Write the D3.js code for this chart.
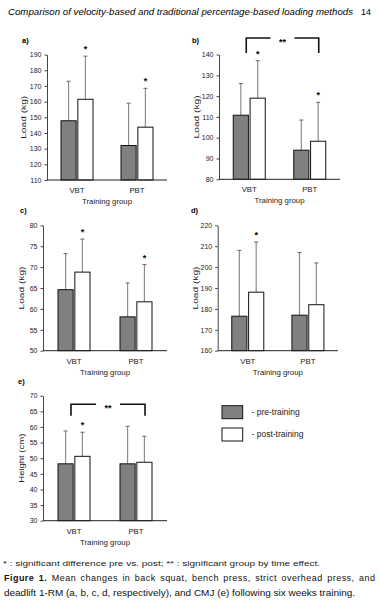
<!DOCTYPE html>
<html>
<head>
<meta charset="utf-8">
<script src="https://cdn.jsdelivr.net/npm/d3@7/dist/d3.min.js"></script>
<style>
  html, body { margin: 0; padding: 0; background: #fff; }
  svg { display: block; font-family: "Liberation Sans", Arial, sans-serif; }
</style>
</head>
<body>
<div id="chart"></div>
<script>
// groups and bar series
const groups = ['VBT', 'PBT'];
const phases = ['pre', 'post'];

// a) back squat
const squatPre = [147.8, 132.0];
const squatPreSD = [25.2, 27.0];
const squatPost = [161.5, 143.7];
const squatPostSD = [27.5, 24.8];
// b) bench press
const benchPre = [110.8, 94.0];
const benchPreSD = [15.2, 14.5];
const benchPost = [119.0, 98.3];
const benchPostSD = [18.0, 18.7];
// c) strict overhead press
const pressPre = [64.6, 58.1];
const pressPreSD = [8.6, 8.1];
const pressPost = [68.8, 61.7];
const pressPostSD = [7.9, 8.9];
// d) deadlift
const deadPre = [176.5, 177.0];
const deadPreSD = [31.5, 30.0];
const deadPost = [188.0, 182.0];
const deadPostSD = [24.0, 20.0];
// e) CMJ
const cmjPre = [48.2, 48.2];
const cmjPreSD = [10.5, 12.0];
const cmjPost = [50.6, 48.7];
const cmjPostSD = [7.7, 8.3];

// tick values
const squatTicks = d3.range(110, 191, 10);
const benchTicks = d3.range(80, 141, 10);
const pressTicks = d3.range(50, 81, 5);
const deadTicks = d3.range(160, 221, 10);
const cmjTicks = d3.range(30, 71, 5);

// significance marks (* above post bar)
const squatStars = [true, true];
const benchStars = [true, true];
const pressStars = [true, true];
const deadStars = [true, false];
const cmjStars = [true, false];

const legendLabels = ['- pre-training', '- post-training'];

const W = 379, H = 606;
const svg = d3.select('#chart').append('svg')
  .attr('width', W).attr('height', H);

// header
svg.append('text')
  .attr('x', 8).attr('y', 15)
  .attr('font-size', 9).attr('font-style', 'italic')
  .attr('textLength', 345).attr('lengthAdjust', 'spacingAndGlyphs')
  .text('Comparison of velocity-based and traditional percentage-based loading methods');
svg.append('text')
  .attr('x', 361).attr('y', 15)
  .attr('font-size', 9)
  .text('14');

const panels = [
  {label: 'a)', pre: squatPre, preSD: squatPreSD, post: squatPost, postSD: squatPostSD,
   ticks: squatTicks, stars: squatStars, title: 'Load (kg)', titleLen: 43,
   x0: 47, x1: 167, top: 54.6, bot: 180, lx: 22, ly: 43, tx: 23},
  {label: 'b)', pre: benchPre, preSD: benchPreSD, post: benchPost, postSD: benchPostSD,
   ticks: benchTicks, stars: benchStars, title: 'Load (kg)', titleLen: 43, bracket: true,
   x0: 219, x1: 340, top: 54.5, bot: 179.3, lx: 192, ly: 43, tx: 196},
  {label: 'c)', pre: pressPre, preSD: pressPreSD, post: pressPost, postSD: pressPostSD,
   ticks: pressTicks, stars: pressStars, title: 'Load (kg)', titleLen: 43,
   x0: 43, x1: 167, top: 225.3, bot: 350.7, lx: 20, ly: 213, tx: 21},
  {label: 'd)', pre: deadPre, preSD: deadPreSD, post: deadPost, postSD: deadPostSD,
   ticks: deadTicks, stars: deadStars, title: 'Load (kg)', titleLen: 43,
   x0: 217.7, x1: 338, top: 225.3, bot: 350.7, lx: 191, ly: 213, tx: 195},
  {label: 'e)', pre: cmjPre, preSD: cmjPreSD, post: cmjPost, postSD: cmjPostSD,
   ticks: cmjTicks, stars: cmjStars, title: 'Height (cm)', titleLen: 49, bracket: true,
   x0: 43, x1: 167, top: 395.7, bot: 520.7, lx: 18, ly: 384, tx: 21}
];

panels.forEach(p => {
  const g = svg.append('g');
  const x = d3.scaleBand().domain(groups).range([p.x0, p.x1]);
  const xi = d3.scaleBand().domain(phases).range([-16, 16]).paddingInner(0.1);
  const y = d3.scaleLinear()
    .domain([p.ticks[0], p.ticks[p.ticks.length - 1]])
    .range([p.bot, p.top]);
  const cx = gr => x(gr) + x.bandwidth() / 2;

  // panel letter
  g.append('text').attr('x', p.lx).attr('y', p.ly)
    .attr('font-size', 7.5).attr('font-weight', 'bold').text(p.label);

  // y axis
  const ya = g.append('g')
    .attr('transform', `translate(${p.x0},0)`)
    .call(d3.axisLeft(y).tickValues(p.ticks).tickSize(2.5).tickSizeOuter(0).tickPadding(3));
  ya.select('.domain').attr('stroke', '#444');
  ya.selectAll('.tick line').attr('stroke', '#444');
  ya.selectAll('.tick text').attr('font-size', 7).attr('fill', '#222')
    .attr('font-family', '"Liberation Sans", Arial, sans-serif');

  // y title
  g.append('text')
    .attr('transform', `translate(${p.tx},${(p.top + p.bot) / 2}) rotate(-90)`)
    .attr('text-anchor', 'middle').attr('dy', '0.35em')
    .attr('font-size', 8).attr('fill', '#222')
    .attr('textLength', p.titleLen).attr('lengthAdjust', 'spacingAndGlyphs')
    .text(p.title);

  // bars
  const rows = [];
  groups.forEach((gr, i) => {
    rows.push({gr, ph: 'pre', v: p.pre[i], sd: p.preSD[i], star: false});
    rows.push({gr, ph: 'post', v: p.post[i], sd: p.postSD[i], star: p.stars[i]});
  });

  // error bars (drawn behind bars)
  const eb = g.selectAll('.err').data(rows).enter().append('g');
  eb.append('line')
    .attr('x1', d => cx(d.gr) + xi(d.ph) + xi.bandwidth() / 2)
    .attr('x2', d => cx(d.gr) + xi(d.ph) + xi.bandwidth() / 2)
    .attr('y1', d => y(d.v)).attr('y2', d => y(d.v + d.sd))
    .attr('stroke', '#8c8c8c').attr('stroke-width', 1.2);
  eb.append('line')
    .attr('x1', d => cx(d.gr) + xi(d.ph) + xi.bandwidth() / 2 - 2)
    .attr('x2', d => cx(d.gr) + xi(d.ph) + xi.bandwidth() / 2 + 2)
    .attr('y1', d => y(d.v + d.sd)).attr('y2', d => y(d.v + d.sd))
    .attr('stroke', '#666').attr('stroke-width', 1);

  g.selectAll('.bar').data(rows).enter().append('rect')
    .attr('x', d => cx(d.gr) + xi(d.ph))
    .attr('width', xi.bandwidth())
    .attr('y', d => y(d.v))
    .attr('height', d => p.bot - y(d.v))
    .attr('fill', d => d.ph === 'pre' ? '#808080' : '#ffffff')
    .attr('stroke', '#111').attr('stroke-width', 1);

  // stars
  g.selectAll('.star').data(rows.filter(d => d.star)).enter().append('text')
    .attr('x', d => cx(d.gr) + xi(d.ph) + xi.bandwidth() / 2)
    .attr('y', d => y(d.v + d.sd) - 4)
    .attr('text-anchor', 'middle').attr('font-size', 9).attr('font-weight', 'bold')
    .text('*');

  // x axis line
  g.append('line').attr('x1', p.x0).attr('x2', p.x1)
    .attr('y1', p.bot).attr('y2', p.bot)
    .attr('stroke', '#222').attr('stroke-width', 1);

  // category labels
  g.selectAll('.cat').data(groups).enter().append('text')
    .attr('x', d => cx(d)).attr('y', p.bot + 13)
    .attr('text-anchor', 'middle').attr('font-size', 7.8).attr('fill', '#222')
    .text(d => d);

  g.append('text')
    .attr('x', (p.x0 + p.x1) / 2).attr('y', p.bot + 24)
    .attr('text-anchor', 'middle').attr('font-size', 7.8).attr('fill', '#222')
    .text('Training group');

  // group-by-time bracket
  if (p.bracket) {
    const bl = cx(groups[0]) - 3, br = cx(groups[1]) + 9;
    const bt = p.label === 'b)' ? 38 : 404.3;
    const bb = bt + (p.label === 'b)' ? 15 : 11.4);
    const mid = (bl + br) / 2;
    g.append('path')
      .attr('d', `M${bl},${bb}V${bt}H${mid - 12}M${mid + 12},${bt}H${br}V${bb}`)
      .attr('fill', 'none').attr('stroke', '#111').attr('stroke-width', 1.6);
    g.append('text').attr('x', mid).attr('y', bt + 7)
      .attr('text-anchor', 'middle').attr('font-size', 9).attr('font-weight', 'bold')
      .text('**');
  }
});

// legend
const lg = svg.append('g');
legendLabels.forEach((t, i) => {
  lg.append('rect')
    .attr('x', 222).attr('y', 405.7 + i * 22.3)
    .attr('width', 20.7).attr('height', 13)
    .attr('fill', i === 0 ? '#808080' : '#ffffff')
    .attr('stroke', '#111').attr('stroke-width', 1);
  lg.append('text')
    .attr('x', 251.5).attr('y', 412.2 + i * 22.3).attr('dy', '0.35em')
    .attr('font-size', 8.5).attr('fill', '#222')
    .text(t);
});

// footnote and caption
svg.append('text')
  .attr('x', 3).attr('y', 566)
  .attr('font-size', 6.5).attr('fill', '#222')
  .attr('textLength', 317).attr('lengthAdjust', 'spacingAndGlyphs')
  .text('* : significant difference pre vs. post; ** : significant group by time effect.');

const cap1 = svg.append('text')
  .attr('x', 4).attr('y', 581)
  .attr('font-size', 9).attr('fill', '#111')
  .attr('textLength', 371).attr('lengthAdjust', 'spacing')
  .attr('word-spacing', 1.5);
cap1.append('tspan').attr('font-weight', 'bold').text('Figure 1.');
cap1.append('tspan').text(' Mean changes in back squat, bench press, strict overhead press, and');

svg.append('text')
  .attr('x', 4).attr('y', 596)
  .attr('font-size', 9).attr('fill', '#111')
  .attr('textLength', 351).attr('lengthAdjust', 'spacingAndGlyphs')
  .text('deadlift 1-RM (a, b, c, d, respectively), and CMJ (e) following six weeks training.');
</script>
</body>
</html>
